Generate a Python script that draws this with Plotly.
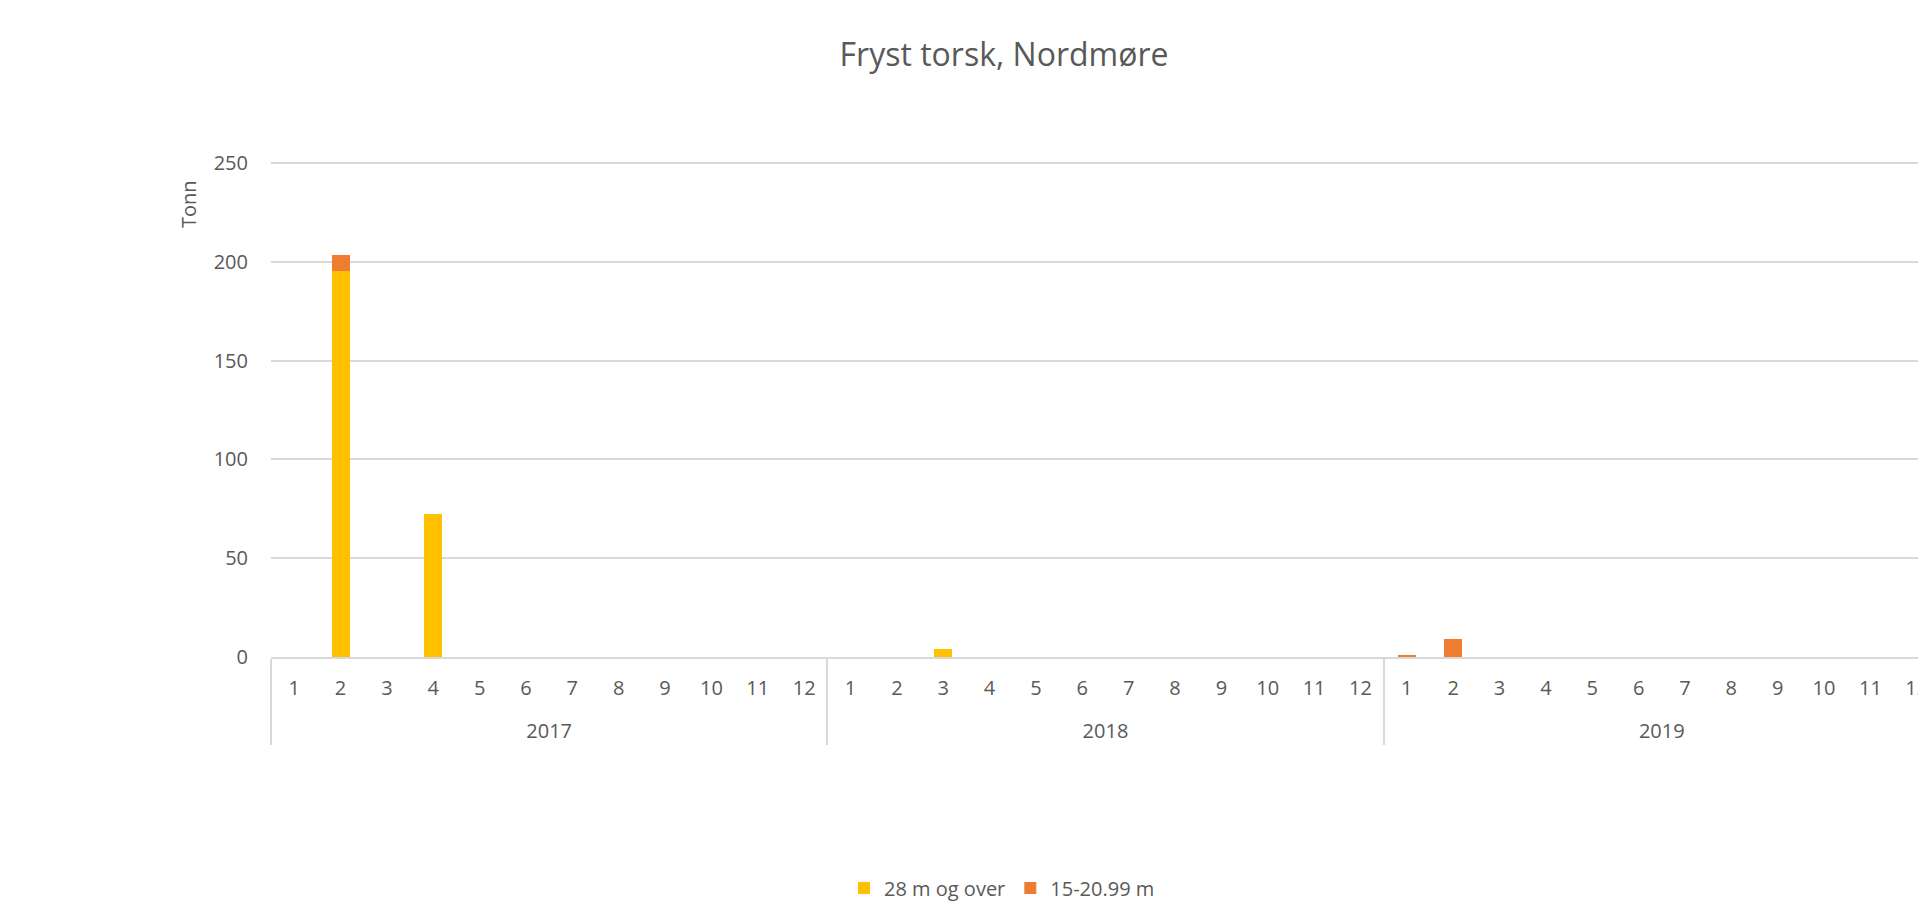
#--------------------- Packages
import plotly.graph_objects as go

#--------------------- Data
years = ['<br>2017'] * 12 + ['<br>2018'] * 12 + ['<br>2019'] * 12
months = [str(m) for m in range(1, 13)] * 3
over_28m = [0, 195.5, 0, 72.2, 0, 0, 0, 0, 0, 0, 0, 0,
            0, 0, 4.0, 0, 0, 0, 0, 0, 0, 0, 0, 0,
            0, 0, 0, 0, 0, 0, 0, 0, 0, 0, 0, 0]
m15_2099 = [0, 8.0, 0, 0, 0, 0, 0, 0, 0, 0, 0, 0,
            0, 0, 0, 0, 0, 0, 0, 0, 0, 0, 0, 0,
            0.6, 9.1, 0, 0, 0, 0, 0, 0, 0, 0, 0, 0]
y_ticks = [0, 50, 100, 150, 200, 250]

#--------------------- Chart
# page body has an 8px margin, so figure coords = page coords - 8
W, H = 1918, 915
L, R, T, B = 263, 0, 153, 266
txt = '#595959'
fnt = 'Open Sans'
ph = H - T - B

fig = go.Figure()
fig.add_trace(go.Bar(x = [years, months], y = over_28m, name = '28 m og over',
                     marker_color = '#FFC000', marker_line_width = 0))
fig.add_trace(go.Bar(x = [years, months], y = m15_2099, name = '15-20.99 m',
                     marker_color = '#ED7D31', marker_line_width = 0))

fig.update_layout(
    width = W, height = H, autosize = False,
    margin = dict(l = L, r = R, t = T, b = B, pad = 0),
    barmode = 'stack', bargap = 0.61,
    plot_bgcolor = 'white', paper_bgcolor = 'white',
    font = dict(family = fnt, size = 20, color = txt),
    title = dict(text = 'Fryst torsk, Nordmøre', x = 996 / W, xref = 'container',
                 xanchor = 'center', y = 1 - 47 / H, yref = 'container', yanchor = 'middle',
                 font = dict(family = fnt, size = 32, color = txt)),
    legend = dict(orientation = 'h', xref = 'paper', x = (994 - L) / (W - L - R),
                  xanchor = 'center', y = -(880 - (T + ph)) / ph, yanchor = 'middle',
                  font = dict(family = fnt, size = 20, color = txt), traceorder = 'normal'),
    showlegend = True,
)
fig.update_xaxes(type = 'multicategory', range = [-0.5, -0.5 + (W - L) / 46.36],
                 showline = True, linecolor = '#D9D9D9', linewidth = 2,
                 showgrid = False, ticks = '', ticklabelstandoff = 12,
                 showdividers = True, dividercolor = '#D9D9D9', dividerwidth = 2,
                 tickfont = dict(family = fnt, size = 20, color = txt))
fig.update_yaxes(range = [0, 251], tickvals = y_ticks, showgrid = True,
                 gridcolor = '#D9D9D9', gridwidth = 2, zeroline = False,
                 showline = False, ticks = '', ticklabelstandoff = 22,
                 tickfont = dict(family = fnt, size = 20, color = txt))
fig.add_annotation(text = 'Tonn', xref = 'paper', yref = 'paper', textangle = -90,
                   x = -(L - 180) / (W - L - R), y = (T + ph - 196) / ph,
                   xanchor = 'center', yanchor = 'middle', showarrow = False,
                   font = dict(family = fnt, size = 20, color = txt))

fig.write_html("out.html")
